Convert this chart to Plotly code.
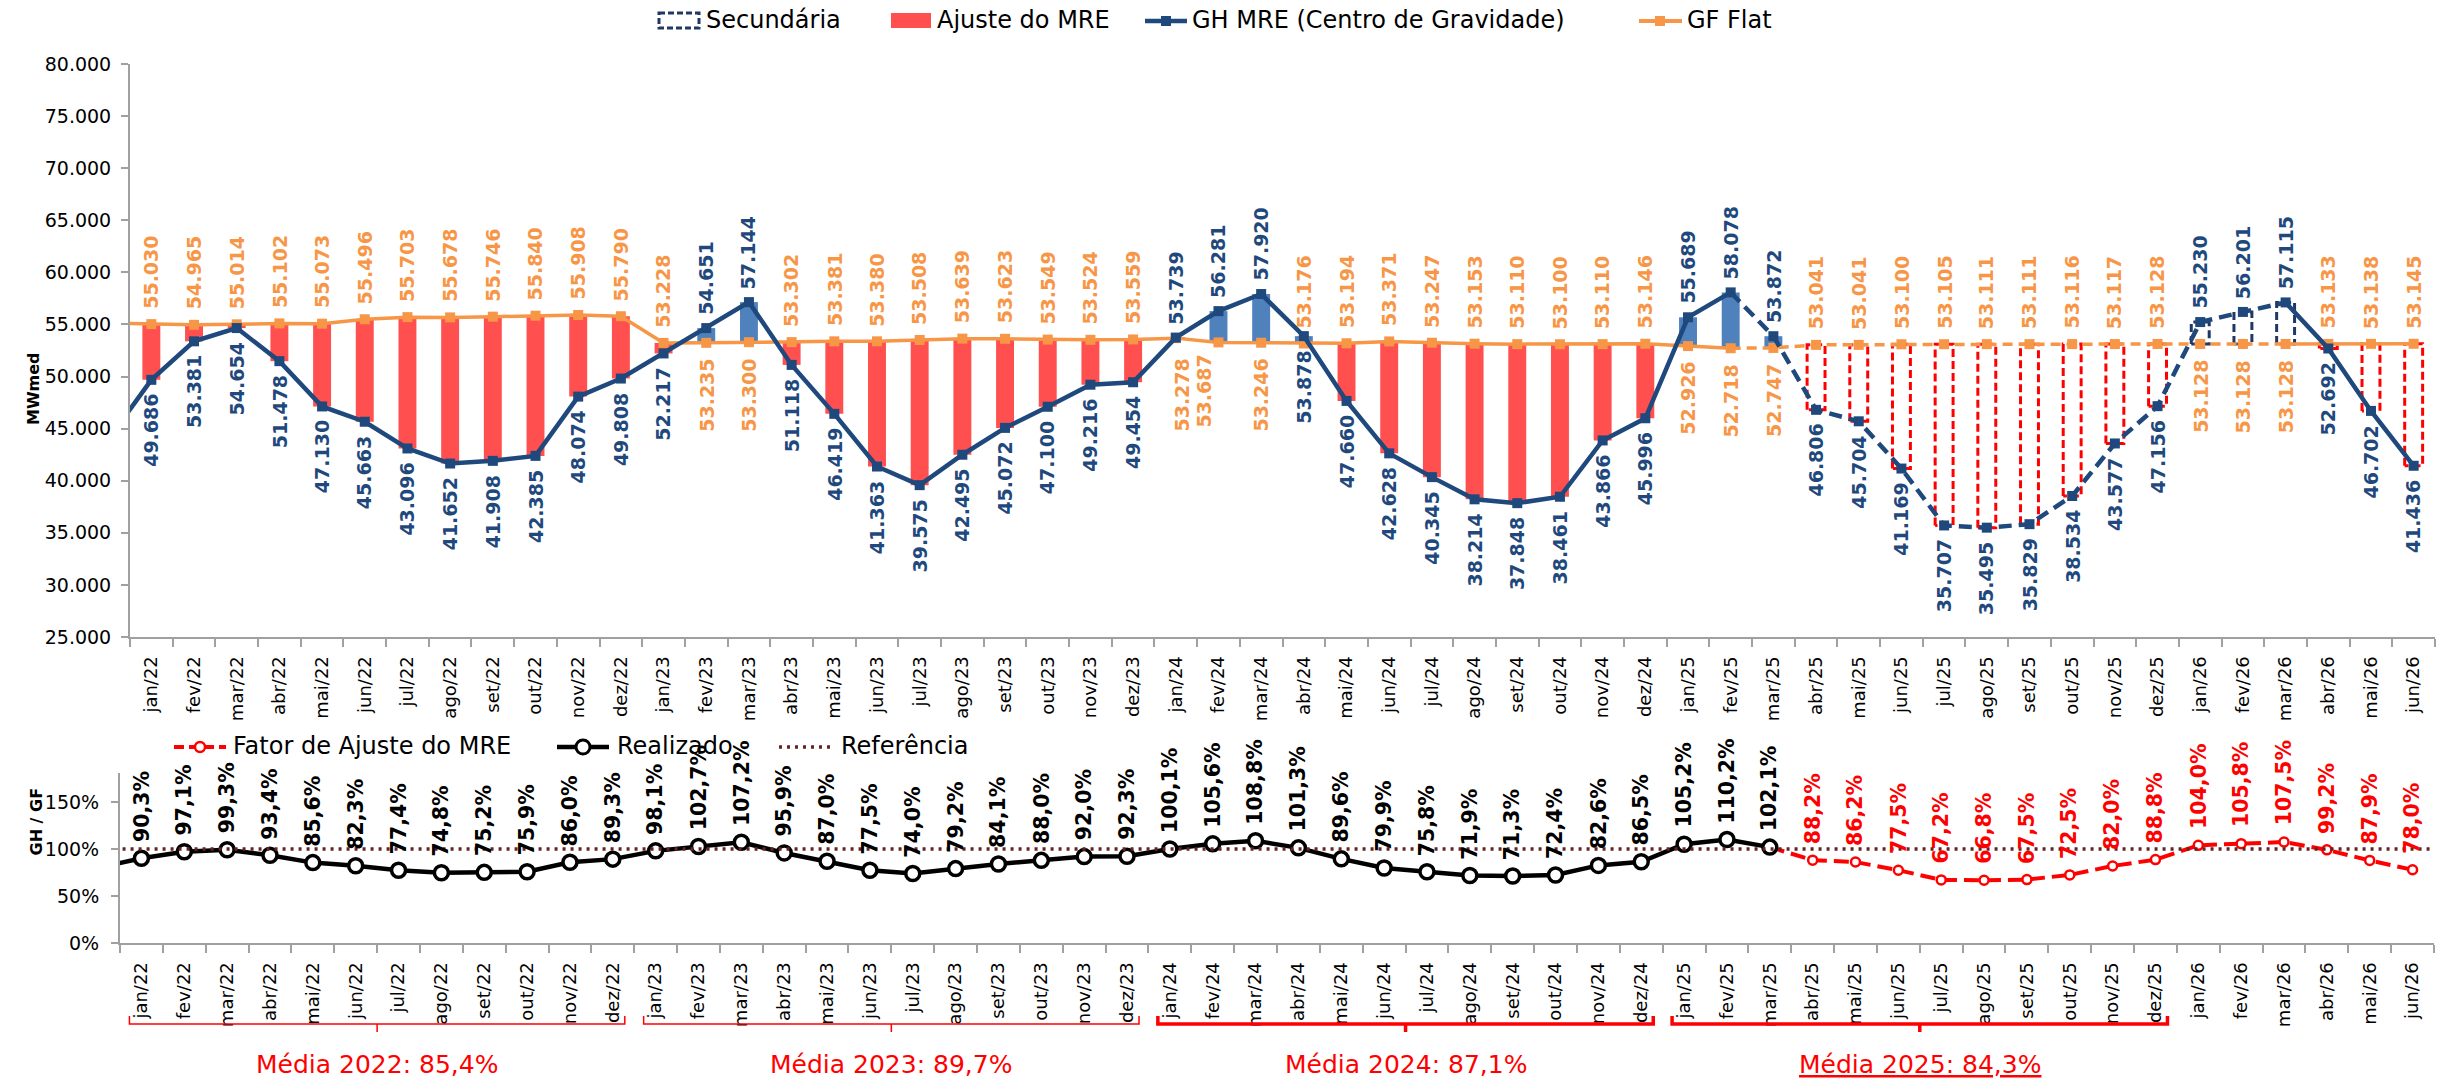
import plotly.graph_objects as go

# ---------------------------------------------------------------- data
NOMES_MES = ["jan", "fev", "mar", "abr", "mai", "jun", "jul", "ago", "set", "out", "nov", "dez"]
MESES = [f"{m}/{a}" for a in ("22", "23", "24", "25") for m in NOMES_MES] + \
        [f"{m}/26" for m in NOMES_MES[:6]]

# Geração hidráulica do MRE (centro de gravidade), MWmed
GH_MRE = [
    49686, 53381, 54654, 51478, 47130, 45663, 43096, 41652, 41908, 42385, 48074, 49808,
    52217, 54651, 57144, 51118, 46419, 41363, 39575, 42495, 45072, 47100, 49216, 49454,
    53739, 56281, 57920, 53878, 47660, 42628, 40345, 38214, 37848, 38461, 43866, 45996,
    55689, 58078, 53872, 46806, 45704, 41169, 35707, 35495, 35829, 38534, 43577, 47156,
    55230, 56201, 57115, 52692, 46702, 41436,
]
# Garantia física flat, MWmed
GF_FLAT = [
    55030, 54965, 55014, 55102, 55073, 55496, 55703, 55678, 55746, 55840, 55908, 55790,
    53228, 53235, 53300, 53302, 53381, 53380, 53508, 53639, 53623, 53549, 53524, 53559,
    53687, 53278, 53246, 53176, 53194, 53371, 53247, 53153, 53110, 53100, 53110, 53146,
    52926, 52718, 52747, 53041, 53041, 53100, 53105, 53111, 53111, 53116, 53117, 53128,
    53128, 53128, 53128, 53133, 53138, 53145,
]
# dez/21 (only the segment entering jan/22 is visible)
GH_DEZ21 = 44000
GF_DEZ21 = 55130
REALIZADO_DEZ21 = 80.0

# GH / GF realizado (%), jan/22 .. mar/25
REALIZADO = [
    90.3, 97.1, 99.3, 93.4, 85.6, 82.3, 77.4, 74.8, 75.2, 75.9, 86.0, 89.3,
    98.1, 102.7, 107.2, 95.9, 87.0, 77.5, 74.0, 79.2, 84.1, 88.0, 92.0, 92.3,
    100.1, 105.6, 108.8, 101.3, 89.6, 79.9, 75.8, 71.9, 71.3, 72.4, 82.6, 86.5,
    105.2, 110.2, 102.1,
]
# Fator de ajuste do MRE projetado (%), abr/25 .. jun/26
FATOR_AJUSTE = [88.2, 86.2, 77.5, 67.2, 66.8, 67.5, 72.5, 82.0, 88.8,
                104.0, 105.8, 107.5, 99.2, 87.9, 78.0]
REFERENCIA = 100.0

MEDIAS_ANO = ["2022", "2023", "2024", "2025"]
MEDIAS_VALOR = [85.4, 89.7, 87.1, 84.3]

# ---------------------------------------------------------------- styles
W, H = 2446, 1081
FONT = "DejaVu Sans"
NAVY = "#1F497D"
NAVY_DASH = "#1F3864"
ORANGE = "#F79646"
RED_BAR = "#FF4F4F"
BLUE_BAR = "#4F81BD"
RED = "#FF0000"
MAROON = "#632523"
AXIS = "#A0A0A0"
BAR_W = 0.42

# advance widths (em) of DejaVu Sans Bold, used to centre rotated labels
BOLD_EM = {**{d: 0.696 for d in "0123456789"}, ".": 0.381, ",": 0.381, "%": 1.002}


def text_len(text, size):
    return size * sum(BOLD_EM.get(c, 0.7) for c in text)


def px_x(p):
    return p / W


def px_y(p):
    return 1 - p / H


n = len(MESES)
idx = list(range(n))
n_real = len(REALIZADO)
i_dash0 = MESES.index("fev/25")
i_dash1 = MESES.index("mar/26")

fig = go.Figure()

# ---------------------------------------------------------------- top: bars
red_x, red_b, red_h = [], [], []
blue_x, blue_b, blue_h = [], [], []
proj_red = ([], [])
proj_blue = ([], [])
for i in idx:
    gh, gf = GH_MRE[i], GF_FLAT[i]
    lo, hi = min(gh, gf), max(gh, gf)
    if i < n_real:
        if gh < gf:
            red_x.append(i); red_b.append(lo); red_h.append(hi - lo)
        else:
            blue_x.append(i); blue_b.append(lo); blue_h.append(hi - lo)
    else:
        xs, ys = proj_red if gh < gf else proj_blue
        xs += [i - BAR_W / 2, i - BAR_W / 2, i + BAR_W / 2, i + BAR_W / 2, i - BAR_W / 2, None]
        ys += [lo, hi, hi, lo, lo, None]

fig.add_trace(go.Bar(x=red_x, y=red_h, base=red_b, width=BAR_W, marker=dict(color=RED_BAR, line=dict(width=0)),
                     name="Ajuste do MRE", showlegend=False, xaxis="x", yaxis="y"))
fig.add_trace(go.Bar(x=blue_x, y=blue_h, base=blue_b, width=BAR_W, marker=dict(color=BLUE_BAR, line=dict(width=0)),
                     name="Secundária", showlegend=False, xaxis="x", yaxis="y"))
fig.add_trace(go.Scatter(x=proj_red[0], y=proj_red[1], mode="lines", line=dict(color=RED, width=3, dash="8px,4px"),
                         showlegend=False, hoverinfo="skip", xaxis="x", yaxis="y"))
fig.add_trace(go.Scatter(x=proj_blue[0], y=proj_blue[1], mode="lines", line=dict(color=NAVY_DASH, width=3, dash="8px,4px"),
                         showlegend=False, hoverinfo="skip", xaxis="x", yaxis="y"))


# ---------------------------------------------------------------- top: lines
def segmented_line(values, first, color, width, dash):
    xs = [-1] + idx
    ys = [first] + values
    k0 = i_dash0 + 1
    k1 = i_dash1 + 1
    parts = [(xs[:k0 + 1], ys[:k0 + 1], "solid"),
             (xs[k0:k1 + 1], ys[k0:k1 + 1], dash),
             (xs[k1:], ys[k1:], "solid")]
    for px_, py_, d in parts:
        fig.add_trace(go.Scatter(x=px_, y=py_, mode="lines", line=dict(color=color, width=width, dash=d),
                                 showlegend=False, hoverinfo="skip", xaxis="x", yaxis="y"))
    fig.add_trace(go.Scatter(x=idx, y=values, mode="markers",
                             marker=dict(symbol="square", size=10, color=color), showlegend=False,
                             xaxis="x", yaxis="y"))


segmented_line(GF_FLAT, GF_DEZ21, ORANGE, 3.5, "10px,6px")
segmented_line(GH_MRE, GH_DEZ21, NAVY, 4.5, "13px,7px")

# ---------------------------------------------------------------- bottom: lines
fig.add_trace(go.Scatter(x=[MESES.index("mar/25")] + idx[n_real:], y=[REALIZADO[-1]] + FATOR_AJUSTE,
                         mode="lines", line=dict(color=RED, width=4, dash="15px,7px"),
                         showlegend=False, hoverinfo="skip", xaxis="x2", yaxis="y2"))
fig.add_trace(go.Scatter(x=idx[n_real:], y=FATOR_AJUSTE, mode="markers",
                         marker=dict(symbol="circle", size=9, color="white", line=dict(color=RED, width=2.5)),
                         name="Fator de Ajuste do MRE", showlegend=False, xaxis="x2", yaxis="y2"))
fig.add_trace(go.Scatter(x=[-1] + idx[:n_real], y=[REALIZADO_DEZ21] + REALIZADO, mode="lines",
                         line=dict(color="black", width=4.5), showlegend=False, hoverinfo="skip",
                         xaxis="x2", yaxis="y2"))
fig.add_trace(go.Scatter(x=idx[:n_real], y=REALIZADO, mode="markers",
                         marker=dict(symbol="circle", size=14, color="white", line=dict(color="black", width=3.5)),
                         name="Realizado", showlegend=False, xaxis="x2", yaxis="y2"))
fig.add_trace(go.Scatter(x=[-1, n], y=[REFERENCIA, REFERENCIA], mode="lines",
                         line=dict(color=MAROON, width=3.5, dash="3px,5px"),
                         name="Referência", showlegend=False, hoverinfo="skip", xaxis="x2", yaxis="y2"))

# ---------------------------------------------------------------- data labels
ann = []


def rlabel(x, y, text, color, above, xref, yref, gap, size, xshift=0):
    half = text_len(text, size) / 2
    ann.append(dict(x=x, y=y, xref=xref, yref=yref, text=f"<b>{text}</b>", textangle=-90,
                    showarrow=False, xanchor="center", yanchor="middle",
                    yshift=(gap + half) if above else -(gap + half), xshift=xshift,
                    font=dict(family=FONT, size=size, color=color)))


gh_below_override = {"abr/24"}
gf_xshift = {"jan/24": 28, "fev/24": -36}
LBL = 19
LBL_PCT = 20.5

for i in idx:
    gh, gf = GH_MRE[i], GF_FLAT[i]
    gh_above = gh > gf and MESES[i] not in gh_below_override
    rlabel(i, gh, f"{gh / 1000:.3f}", NAVY, gh_above, "x", "y", 13 if gh_above else 14, LBL)
    rlabel(i, gf, f"{gf / 1000:.3f}", ORANGE, not gh_above, "x", "y", 16 if gh_above else 15, LBL,
           xshift=gf_xshift.get(MESES[i], 0))

for i, v in enumerate(REALIZADO):
    rlabel(i, v, f"{v:.1f}%".replace(".", ","), "black", True, "x2", "y2", 16, LBL_PCT)
for k, v in enumerate(FATOR_AJUSTE):
    rlabel(n_real + k, v, f"{v:.1f}%".replace(".", ","), RED, True, "x2", "y2", 16, LBL_PCT)

# axis titles
ann.append(dict(x=px_x(22), y=px_y(350), xref="paper", yref="paper", text="<b>MWmed</b>", textangle=-90,
                showarrow=False, font=dict(family=FONT, size=16, color="black")))
ann.append(dict(x=px_x(24), y=px_y(858), xref="paper", yref="paper", text="<b>GH / GF</b>", textangle=-90,
                showarrow=False, font=dict(family=FONT, size=16, color="black")))

# ---------------------------------------------------------------- yearly averages
shapes = []
brace_w = [1.5, 1.5, 3.5, 3.5]
for k, (ano, media) in enumerate(zip(MEDIAS_ANO, MEDIAS_VALOR)):
    i0 = MESES.index(f"jan/{ano[2:]}")
    i1 = MESES.index(f"dez/{ano[2:]}")
    x0, x1 = i0 - 0.28, i1 + 0.28
    xc = (x0 + x1) / 2
    yb, ye, yc = px_y(1024), px_y(1016), px_y(1032)
    shapes.append(dict(type="path", xref="x2", yref="paper",
                       path=f"M{x0},{ye} L{x0},{yb} L{x1},{yb} L{x1},{ye} M{xc},{yb} L{xc},{yc}",
                       line=dict(color=RED, width=brace_w[k])))
    txt = f"Média {ano}: {media:.1f}%".replace(".", ",")
    if ano == "2025":
        txt = f"<u>{txt}</u>"
    ann.append(dict(x=xc, y=px_y(1064), xref="x2", yref="paper", text=txt, showarrow=False,
                    xanchor="center", yanchor="middle", font=dict(family=FONT, size=25, color=RED)))

# ---------------------------------------------------------------- legends
LEG = 24


def leg_text(x, y, text):
    ann.append(dict(x=px_x(x), y=px_y(y), xref="paper", yref="paper", text=text, showarrow=False,
                    xanchor="left", yanchor="middle", font=dict(family=FONT, size=LEG, color="black")))


def leg_line(x0, x1, y, color, width, dash="solid"):
    shapes.append(dict(type="line", xref="paper", yref="paper", x0=px_x(x0), x1=px_x(x1), y0=px_y(y), y1=px_y(y),
                       line=dict(color=color, width=width, dash=dash)))


def leg_box(x0, x1, y0, y1, fill, line_color, line_width, dash="solid", kind="rect"):
    shapes.append(dict(type=kind, xref="paper", yref="paper", x0=px_x(x0), x1=px_x(x1), y0=px_y(y0), y1=px_y(y1),
                       fillcolor=fill, line=dict(color=line_color, width=line_width, dash=dash)))


# top legend
leg_box(659, 699, 13, 28, "rgba(0,0,0,0)", NAVY_DASH, 3, "6px,3px")
leg_text(704, 20, "Secundária")
leg_box(891, 931, 13, 28, RED_BAR, RED_BAR, 0)
leg_text(935, 20, "Ajuste do MRE")
leg_line(1145, 1187, 21, NAVY, 4.5)
leg_box(1161, 1171, 16, 26, NAVY, NAVY, 0)
leg_text(1190, 20, "GH MRE (Centro de Gravidade)")
leg_line(1639, 1682, 21, ORANGE, 4)
leg_box(1655, 1665, 16, 26, ORANGE, ORANGE, 0)
leg_text(1685, 20, "GF Flat")

# bottom legend
leg_line(174, 226, 747, RED, 4, "10px,5px")
leg_box(195, 205, 742, 752, "white", RED, 2.5, kind="circle")
leg_text(231, 746, "Fator de Ajuste do MRE")
leg_line(557, 609, 747, "black", 4.5)
leg_box(576, 590, 740, 754, "white", "black", 3, kind="circle")
leg_text(615, 746, "Realizado")
leg_line(779, 831, 747, MAROON, 3.5, "3px,5px")
leg_text(839, 746, "Referência")

# ---------------------------------------------------------------- axes
minor = dict(tickmode="array", tickvals=[i - 0.5 for i in range(n + 1)], ticks="outside",
             ticklen=8, tickwidth=2, tickcolor=AXIS, showgrid=False)
xcommon = dict(range=[-0.5, n - 0.5], tickmode="array", tickvals=idx, ticktext=MESES, tickangle=-90,
               ticks="", showline=True, linecolor=AXIS, linewidth=2, showgrid=False, zeroline=False,
               tickfont=dict(family=FONT, size=18, color="black"), minor=minor, automargin=False,
               ticklabelstandoff=10)

PCT_TICKS = [0, 50, 100, 150]

fig.update_layout(
    width=W, height=H, margin=dict(l=0, r=0, t=0, b=0),
    paper_bgcolor="white", plot_bgcolor="white", separators=",.",
    showlegend=False, barmode="overlay",
    xaxis=dict(domain=[px_x(130), px_x(2435)], anchor="y", **xcommon),
    yaxis=dict(domain=[px_y(637), px_y(64)], anchor="x", range=[25000, 80000],
               tickmode="array", tickvals=list(range(25000, 80001, 5000)), tickformat=",d",
               ticks="outside", ticklen=7, tickwidth=2, tickcolor=AXIS, showline=True, linecolor=AXIS,
               linewidth=2, showgrid=False, zeroline=False, automargin=False, ticklabelstandoff=6,
               tickfont=dict(family=FONT, size=19, color="black")),
    xaxis2=dict(domain=[px_x(120), px_x(2434)], anchor="y2", **xcommon),
    yaxis2=dict(domain=[px_y(943), px_y(773)], anchor="x2", range=[0, 181],
                tickmode="array", tickvals=PCT_TICKS, ticktext=[f"{v}%" for v in PCT_TICKS],
                ticks="outside", ticklen=7, tickwidth=2, tickcolor=AXIS, showline=True, linecolor=AXIS,
                linewidth=2, showgrid=False, zeroline=False, automargin=False, ticklabelstandoff=8,
                tickfont=dict(family=FONT, size=19, color="black")),
    annotations=ann, shapes=shapes,
)

fig.write_html("out.html")
